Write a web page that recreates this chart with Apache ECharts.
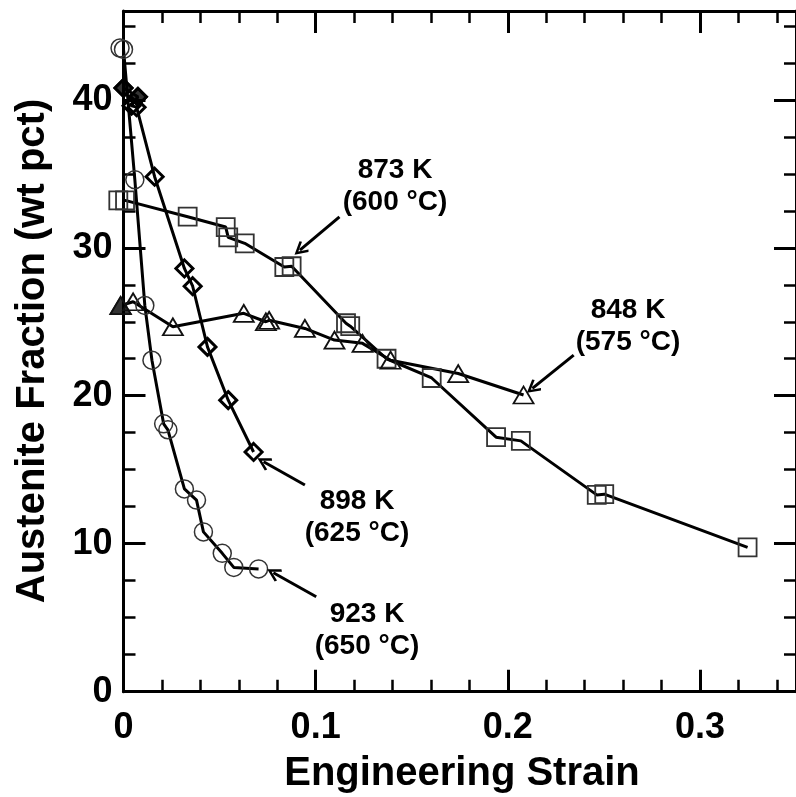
<!DOCTYPE html>
<html>
<head>
<meta charset="utf-8">
<script src="https://cdn.jsdelivr.net/npm/echarts@6/dist/echarts.min.js"></script>
<style>
  html, body { margin: 0; padding: 0; background: #fff; }
  #chart { width: 796px; height: 797px; }
</style>
</head>
<body>
<div id="chart"></div>
<script>
  // 923 K (650 C) - open circles
  var strain923 = [-0.0018, 0.0, 0.0059, 0.0111, 0.0148, 0.0209, 0.0231, 0.0317, 0.038, 0.0416, 0.0514, 0.0574, 0.0703]
  var aust923 = [43.5, 43.4, 34.6, 26.1, 22.4, 18.1, 17.7, 13.7, 12.95, 10.8, 9.35, 8.4, 8.3]

  // 898 K (625 C) - diamonds
  var strain898 = [0.0, 0.0075, 0.0042, 0.0068, 0.0162, 0.0317, 0.036, 0.0437, 0.0545, 0.0677]
  var aust898 = [40.8, 40.2, 39.6, 39.5, 34.8, 28.6, 27.4, 23.3, 19.7, 16.2]

  // 873 K (600 C) - squares
  var strain873 = [-0.0027, 0.0008, 0.0334, 0.0532, 0.0545, 0.0631, 0.0837, 0.0875, 0.1158, 0.118, 0.1369, 0.1604, 0.1939, 0.2068, 0.2463, 0.2502, 0.3248]
  var aust873 = [33.2, 33.2, 32.1, 31.4, 30.7, 30.3, 28.7, 28.75, 24.9, 24.7, 22.5, 21.2, 17.2, 16.95, 13.3, 13.35, 9.75]

  // 848 K (575 C) - triangles
  var strain848 = [-0.0015, 0.005, 0.0257, 0.0626, 0.0741, 0.0758, 0.0944, 0.1098, 0.1244, 0.139, 0.1742, 0.2082]
  var aust848 = [26.1, 26.35, 24.66, 25.57, 25.0, 25.1, 24.55, 23.76, 23.54, 22.4, 21.5, 20.05]

  // initial (unstrained) points drawn filled
  var filledDiamondIdx = [0, 1]
  var filledTriangleIdx = [0]

  var xTicks = [0, 0.1, 0.2, 0.3]
  var yTicks = [0, 10, 20, 30, 40]

  // labels and arrows: [text, label centre px, arrow start, arrow end (data)]
  var notes = [
    ['873 K\n(600 °C)', [395, 186], [0.1124, 32.09], [0.0918, 29.84]],
    ['848 K\n(575 °C)', [628, 326], [0.2343, 22.75], [0.2128, 20.5]],
    ['898 K\n(625 °C)', [357, 517], [0.0944, 13.97], [0.0729, 15.54]],
    ['923 K\n(650 °C)', [367, 630], [0.1003, 6.42], [0.078, 8.04]]
  ]

  var FONT = '"Liberation Sans", Arial, sans-serif'
  var chart = echarts.init(document.getElementById('chart'))

  function zip(xs, ys) {
    return xs.map(function (x, i) { return [x, ys[i]] })
  }

  function axisBase(extra) {
    var base = {
      type: 'value',
      splitLine: { show: false },
      axisLine: { show: true, onZero: false, lineStyle: { color: '#000', width: 3 } },
      axisTick: { show: true, inside: true, length: 22, lineStyle: { color: '#000', width: 3 } },
      minorTick: { show: true, length: 12, lineStyle: { color: '#000', width: 2.5 } },
      minorSplitLine: { show: false }
    }
    return Object.assign(base, extra)
  }

  var arrowHead = 'path://M5,0L10,9L8.6,10.2L5,3.6L1.4,10.2L0,9Z'

  var arrowLines = notes.map(function (n) {
    return [{ coord: n[2] }, { coord: n[3] }]
  })

  var lineStyleBlack = { color: '#000', width: 3 }
  var openFill = 'rgba(0,0,0,0)'

  chart.setOption({
    animation: false,
    backgroundColor: '#fff',
    grid: { left: 123.5, top: 11, right: -7, bottom: 105.3 },
    xAxis: [
      axisBase({
        min: 0, max: 0.35, interval: 0.1, position: 'bottom',
        minorTick: { show: true, splitNumber: 5, length: 12, lineStyle: { color: '#000', width: 2.5 } },
        axisLabel: {
          margin: 18, fontSize: 36, fontWeight: 'bold', color: '#000', fontFamily: FONT,
          showMaxLabel: false,
          formatter: function (v) { return xTicks.indexOf(Math.round(v * 10) / 10) >= 0 ? String(Math.round(v * 10) / 10) : '' }
        }
      }),
      axisBase({
        min: 0, max: 0.35, interval: 0.1, position: 'top',
        minorTick: { show: true, splitNumber: 5, length: 12, lineStyle: { color: '#000', width: 2.5 } },
        axisLabel: { show: false }
      })
    ],
    yAxis: [
      axisBase({
        min: 0, max: 46, interval: 10, position: 'left',
        minorTick: { show: true, splitNumber: 4, length: 12, lineStyle: { color: '#000', width: 2.5 } },
        axisLabel: {
          margin: 11, fontSize: 36, fontWeight: 'bold', color: '#000', fontFamily: FONT,
          showMaxLabel: false,
          formatter: function (v) { return yTicks.indexOf(v) >= 0 ? String(v) : '' }
        }
      }),
      axisBase({
        min: 0, max: 46, interval: 10, position: 'right',
        minorTick: { show: true, splitNumber: 4, length: 12, lineStyle: { color: '#000', width: 2.5 } },
        axisLabel: { show: false }
      })
    ],
    graphic: [
      {
        type: 'text', x: 462, y: 774,
        style: { text: 'Engineering Strain', font: 'bold 40px ' + FONT, fill: '#000', textAlign: 'center', textVerticalAlign: 'middle' }
      },
      {
        type: 'text', x: 33, y: 351, rotation: Math.PI / 2,
        style: { text: 'Austenite Fraction (wt pct)', font: 'bold 40px ' + FONT, fill: '#000', textAlign: 'center', textVerticalAlign: 'middle' }
      }
    ].concat(notes.map(function (n) {
      return {
        type: 'text', x: n[1][0], y: n[1][1],
        style: { text: n[0], font: 'bold 28px ' + FONT, lineHeight: 32, fill: '#000', textAlign: 'center', textVerticalAlign: 'middle' }
      }
    })),
    series: [
      {
        name: '873 K', type: 'line', clip: false, data: zip(strain873, aust873),
        symbol: 'rect', symbolSize: 18,
        lineStyle: lineStyleBlack,
        itemStyle: { color: openFill, borderColor: '#333', borderWidth: 1.8 },
        markLine: {
          silent: true, symbol: ['none', arrowHead], symbolSize: [14, 14],
          label: { show: false },
          lineStyle: { color: '#000', width: 3, type: 'solid' },
          data: arrowLines
        }
      },
      {
        name: '848 K', type: 'line', clip: false, data: zip(strain848, aust848),
        symbol: 'triangle', symbolSize: [20, 17],
        lineStyle: lineStyleBlack,
        itemStyle: { color: openFill, borderColor: '#111', borderWidth: 1.8 }
      },
      {
        name: '898 K', type: 'line', clip: false, data: zip(strain898, aust898),
        symbol: 'diamond', symbolSize: 17,
        lineStyle: lineStyleBlack,
        itemStyle: { color: openFill, borderColor: '#000', borderWidth: 3 }
      },
      {
        name: '923 K', type: 'line', clip: false, data: zip(strain923, aust923),
        symbol: 'circle', symbolSize: 18,
        lineStyle: lineStyleBlack,
        itemStyle: { color: openFill, borderColor: '#333', borderWidth: 1.5 }
      },
      {
        name: 'initial 898 K', type: 'scatter', clip: false,
        data: filledDiamondIdx.map(function (i) { return [strain898[i], aust898[i]] }),
        symbol: 'diamond', symbolSize: 20,
        itemStyle: { color: '#000', borderColor: '#000', borderWidth: 1 }
      },
      {
        name: 'initial 848 K', type: 'scatter', clip: false,
        data: filledTriangleIdx.map(function (i) { return [strain848[i], aust848[i]] }),
        symbol: 'triangle', symbolSize: [22, 18],
        itemStyle: { color: '#000', borderColor: '#000', borderWidth: 1 }
      }
    ]
  })
</script>
</body>
</html>
